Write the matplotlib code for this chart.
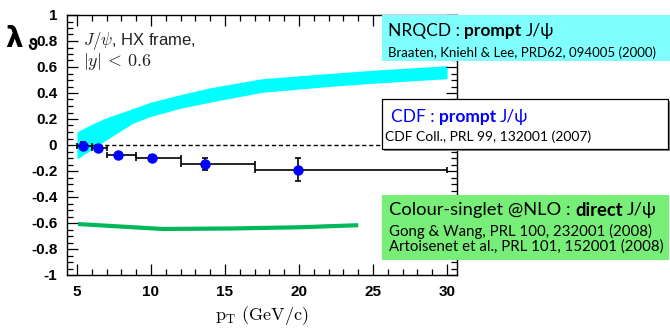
import matplotlib
matplotlib.use("Agg")
import matplotlib.pyplot as plt
from matplotlib.patches import Rectangle
from matplotlib.ticker import MultipleLocator

plt.rcParams['mathtext.fontset'] = 'cm'

# CDF prompt J/psi polarisation (HX frame)
cdf_pt = [5.4, 6.4, 7.8, 10.1, 13.65, 19.95]
cdf_lam = [-0.005, -0.02, -0.08, -0.10, -0.145, -0.19]
cdf_err = [0.025, 0.02, 0.012, 0.02, 0.047, 0.09]
cdf_pt_lo = [5.0, 6.0, 7.0, 9.0, 12.0, 17.0]
cdf_pt_hi = [6.0, 7.0, 9.0, 12.0, 17.0, 30.0]

# NRQCD band (prompt)
nrqcd_pt = [5.0, 5.5, 6.0, 7.0, 8.77, 10.0, 11.9, 14.0, 17.5, 22.0, 25.0, 30.0]
nrqcd_hi = [0.10, 0.13, 0.16, 0.21, 0.28, 0.33, 0.385, 0.44, 0.51, 0.55, 0.575, 0.61]
nrqcd_lo = [-0.108, -0.07, -0.035, 0.04, 0.167, 0.22, 0.28, 0.33, 0.405, 0.45, 0.475, 0.51]

# Colour-singlet NLO (direct)
cs_pt = [5.07, 10.8, 15.5, 20.0, 24.0]
cs_lam = [-0.608, -0.646, -0.642, -0.633, -0.617]

W, H = 670, 329
fig = plt.figure(figsize=(W / 100, H / 100), dpi=100)
ax = fig.add_axes([67 / W, 54 / H, 390 / W, 260 / H])

ax.fill_between(nrqcd_pt, nrqcd_lo, nrqcd_hi, color='#00FFFF', lw=0, zorder=1)
ax.plot([5, 30], [0, 0], color='black', ls=(0, (3, 2)), lw=1, zorder=2)
ax.plot(cs_pt, cs_lam, color='#00B85A', lw=3.0, solid_capstyle='butt', zorder=2)

xerr = [[p - lo for p, lo in zip(cdf_pt, cdf_pt_lo)],
        [hi - p for p, hi in zip(cdf_pt, cdf_pt_hi)]]
ax.errorbar(cdf_pt, cdf_lam, yerr=cdf_err, xerr=xerr, fmt='o', color='blue',
            ms=6.5, ecolor='black', elinewidth=1.2, capsize=2, capthick=1.2, zorder=3)

ax.set_xlim(4.33, 30.67)
ax.set_ylim(-1, 1)
ax.xaxis.set_major_locator(MultipleLocator(5))
ax.xaxis.set_minor_locator(MultipleLocator(1))
ax.yaxis.set_minor_locator(MultipleLocator(0.05))
yt = [-1, -0.8, -0.6, -0.4, -0.2, 0, 0.2, 0.4, 0.6, 0.8, 1]
ax.set_yticks(yt)
ax.set_yticklabels(['%g' % v for v in yt])
ax.tick_params(which='both', direction='in', top=True, right=True, width=0.9)
ax.tick_params(which='major', length=8, pad=7)
ax.tick_params(which='minor', length=4)
for lab in ax.get_xticklabels() + ax.get_yticklabels():
    lab.set_fontfamily('Liberation Sans')
    lab.set_fontweight('bold')
    lab.set_fontsize(11)
for s in ax.spines.values():
    s.set_linewidth(1.0)

ax.set_xlabel(r'$\mathrm{p_T\ (GeV/c)}$', fontsize=13, labelpad=4)

# y label: lambda_theta
fig.text(5 / W, 1 - 47 / H, 'λ', fontsize=20, fontweight='bold',
         family='DejaVu Sans', va='baseline')
fig.text(27 / W, 1 - 50 / H, 'ϑ', fontsize=11, fontweight='bold',
         family='DejaVu Sans', va='baseline')

fig.text(83 / W, 1 - 41 / H, r'$J/\psi$, HX frame,', fontsize=12,
         family='Liberation Sans', va='center', color='#222222')
fig.text(83 / W, 1 - 61 / H, r'$|y|\,<\,0.6$', fontsize=13, va='center', color='#222222')

# legend boxes
fig.add_artist(Rectangle((382 / W, 1 - 61 / H), 288 / W, 46 / H,
                         transform=fig.transFigure, color='#80FFFF', lw=0, zorder=5))
fig.add_artist(Rectangle((384 / W, 1 - 151 / H), 286 / W, 50 / H,
                         transform=fig.transFigure, color='#888888', lw=0, zorder=5))
fig.add_artist(Rectangle((382 / W, 1 - 149 / H), 286 / W, 50 / H,
                         transform=fig.transFigure, facecolor='white',
                         edgecolor='black', lw=0.9, zorder=6))
fig.add_artist(Rectangle((382 / W, 1 - 260 / H), 287 / W, 65 / H,
                         transform=fig.transFigure, color='#77EE77', lw=0, zorder=5))

box_font = ['Lato', 'DejaVu Sans']
renderer = fig.canvas.get_renderer()


def rich_line(x, y, parts, size, color='black'):
    # place text pieces one after another, in figure pixels from the top
    px = x
    gap = 0.24 * size * 100 / 72
    for txt, weight in parts:
        t = fig.text(px / W, 1 - y / H, txt, fontsize=size, fontweight=weight,
                     family=box_font, color=color, va='center', zorder=10)
        bb = t.get_window_extent(renderer=renderer)
        px += bb.width + gap


rich_line(388, 31, [('NRQCD :', 'normal'), ('prompt', 'bold'), ('J/ψ', 'normal')], 12.5)
rich_line(388, 53, [('Braaten, Kniehl & Lee, PRD62, 094005 (2000)', 'normal')], 9.5)
rich_line(391, 117, [('CDF :', 'normal'), ('prompt', 'bold'), ('J/ψ', 'normal')], 12.5, color='blue')
rich_line(385, 137, [('CDF Coll., PRL 99, 132001 (2007)', 'normal')], 10)
rich_line(389, 210, [('Colour-singlet @NLO :', 'normal'), ('direct', 'bold'), ('J/ψ', 'normal')], 13.2)
rich_line(389, 231, [('Gong & Wang, PRL 100, 232001 (2008)', 'normal')], 10.8)
rich_line(389, 247, [('Artoisenet et al., PRL 101, 152001 (2008)', 'normal')], 10.8)

fig.savefig('out.png', dpi=100)
